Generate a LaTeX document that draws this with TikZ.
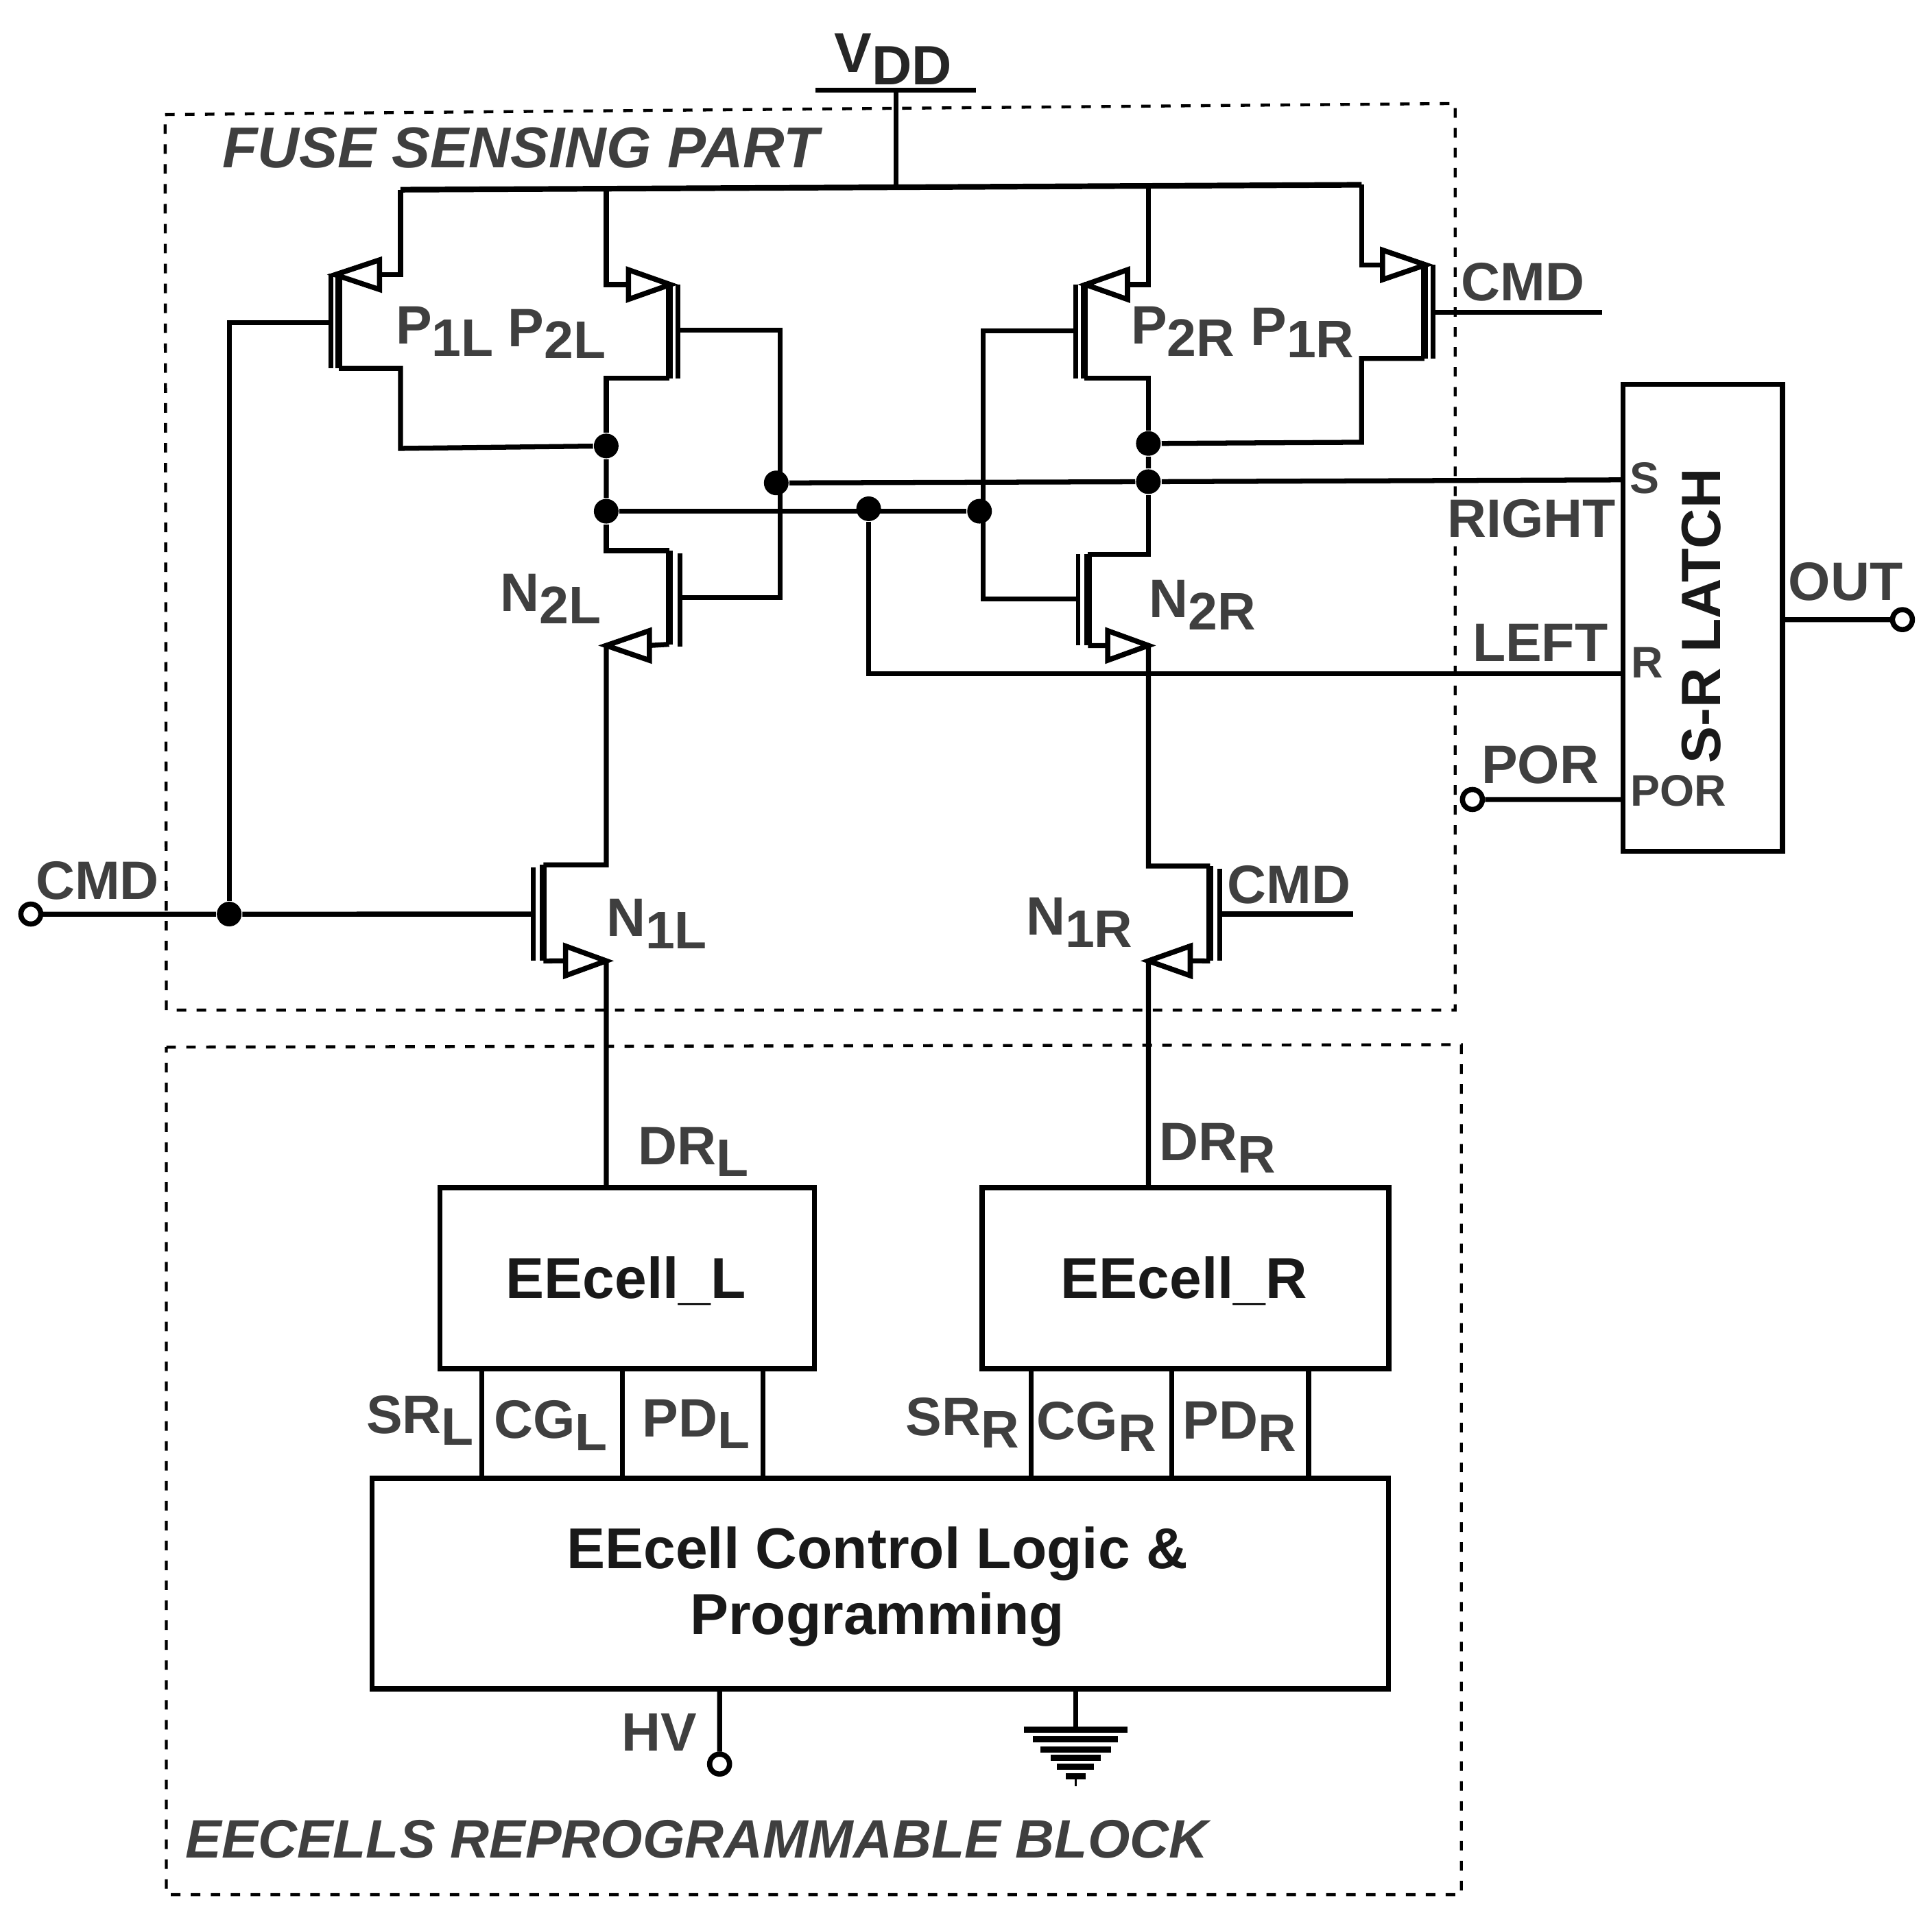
\documentclass[tikz,border=0pt]{standalone}
\usepackage{fontspec}
\setmainfont{Liberation Sans}
\definecolor{labgray}{HTML}{3F3F3F}
\newcommand{\subl}[2]{#1\raisebox{-2.8pt}{\fontsize{12.2}{13}\selectfont #2}}
\tikzset{
  wire/.style={black,line width=1.15pt,line join=miter},
  chan/.style={black,line width=1.6pt},
  gatebar/.style={black,line width=1.1pt},
  boxline/.style={black,line width=1.2pt},
  dashbox/.style={black,line width=0.7pt,dash pattern=on 2.2pt off 2.4pt},
  tri/.style={black,line width=1.2pt,fill=white,line join=miter},
  dotn/.style={circle,fill=black,inner sep=0pt,minimum size=5.7pt},
  pin/.style={circle,draw=black,line width=1.2pt,fill=white,inner sep=0pt,minimum size=4.6pt},
  lab/.style={inner sep=0pt,text=labgray,font=\fontsize{12.5}{14}\selectfont\bfseries},
  pinlab/.style={inner sep=0pt,text=labgray,font=\fontsize{10.2}{12}\selectfont\bfseries},
  titlelab/.style={inner sep=0pt,text=labgray,font=\fontsize{12.5}{14}\selectfont\bfseries\itshape},
  blocklab/.style={inner sep=0pt,text=black!90,align=center,font=\fontsize{13.3}{15.3}\selectfont\bfseries}
}
\begin{document}
\begin{tikzpicture}[scale=0.1]
\useasboundingbox (0,0) rectangle (156.8,-156);
% dashed frames
\draw [dashbox] (13.4,-9.3) -- (118.1,-8.4) -- (118.1,-82) -- (13.5,-82) -- cycle;
\draw [dashbox] (13.5,-85) -- (118.6,-84.8) -- (118.6,-153.8) -- (13.5,-153.8) -- cycle;
\node [titlelab,anchor=west,font=\fontsize{13.3}{14}\selectfont\bfseries\itshape] (titleFuse) at (18,-12) {FUSE SENSING PART};
\node [titlelab,anchor=west] (titleCells) at (15,-149.3) {EECELLS REPROGRAMMABLE BLOCK};
% supply
\coordinate (vddL) at (66.2,-7.3);
\coordinate (vddR) at (79.2,-7.3);
\coordinate (vddM) at (72.7,-7.3);
\coordinate (railM) at (72.7,-15.2);
\coordinate (railA) at (32.5,-15.4);
\coordinate (railB) at (49.2,-15.35);
\coordinate (railC) at (93.2,-15.05);
\coordinate (railD) at (110.5,-15);
\draw [wire] (vddL) -- (vddR);
\draw [wire] (vddM) -- (railM);
\draw [wire,line width=1.3pt] (railA) -- (railM) -- (railD);
\node [inner sep=0pt,text=black!85,font=\fontsize{13}{15}\selectfont\bfseries] (lblVdd) at (72.5,-4.8) {\subl{V}{\fontsize{12.8}{15}\selectfont DD}};
% junction dots
\node [dotn] (dotA) at (49.2,-36.2) {};
\node [dotn] (dotB) at (49.2,-41.5) {};
\node [dotn] (dotC) at (63,-39.2) {};
\node [dotn] (dotD) at (70.5,-41.3) {};
\node [dotn] (dotE) at (79.5,-41.5) {};
\node [dotn] (dotF) at (93.2,-36) {};
\node [dotn] (dotG) at (93.2,-39.1) {};
\node [dotn] (dotH) at (18.6,-74.2) {};
% P1L
\coordinate (P1Ls) at (27.5,-22.3);
\coordinate (P1Ld) at (27.5,-29.9);
\draw [wire] (railA) |- (P1Ls);
\draw [chan] (P1Ls) -- (P1Ld);
\draw [wire] (P1Ld) -| (32.5,-36.4) -- (dotA);
\draw [gatebar] (26.85,-22.2) -- (26.85,-29.9);
\draw [tri] (P1Ls) ++(-0.3,0) -- ++(3.6,1.2) -- ++(0,-2.4) -- cycle;
\node [lab] (lblP1L) at (36.1,-26.9) {\subl{P}{1L}};
% P2L
\coordinate (P2Ls) at (54.3,-23.1);
\coordinate (P2Ld) at (54.3,-30.7);
\draw [wire] (railB) |- (P2Ls);
\draw [chan] (P2Ls) -- (P2Ld);
\draw [wire] (P2Ld) -| (dotA);
\draw [gatebar] (55,-23.1) -- (55,-30.7);
\draw [tri] (P2Ls) ++(0.1,0) -- ++(-3.4,1.2) -- ++(0,-2.4) -- cycle;
\node [lab] (lblP2L) at (45.2,-27.1) {\subl{P}{2L}};
% N2L
\coordinate (N2Ld) at (54.3,-44.7);
\coordinate (N2Ls) at (54.3,-52.3);
\draw [wire] (dotA) -- (dotB);
\draw [wire] (dotB) |- (N2Ld);
\draw [chan] (N2Ld) -- (N2Ls);
\draw [gatebar] (55.2,-44.9) -- (55.2,-52.5);
\draw [tri] (49.2,-52.4) -- ++(3.5,1.2) -- ++(0,-2.4) -- cycle;
\draw [wire] (52.7,-52.4) -- (N2Ls);
\node [lab] (lblN2L) at (44.7,-48.6) {\subl{N}{2L}};
% gates of P2L and N2L
\coordinate (gP2L) at (55,-26.8);
\coordinate (gN2L) at (55.2,-48.5);
\coordinate (gLeft) at (63.3,-48.5);
\draw [wire] (gP2L) -| (gLeft) -- (gN2L);
% N1L
\coordinate (N1Ld) at (44.1,-70.2);
\coordinate (N1Ls) at (44.1,-78);
\draw [wire] (49.2,-52.4) -- (49.2,-70.2) -- (N1Ld);
\draw [chan] (N1Ld) -- (N1Ls);
\draw [gatebar] (43.3,-70.4) -- (43.3,-78);
\draw [wire] (N1Ls) -- (46,-78);
\draw [tri] (49.2,-78) -- ++(-3.3,1.2) -- ++(0,-2.4) -- cycle;
\node [lab] (lblN1L) at (53.3,-75) {\subl{N}{1L}};
% left input
\node [pin] (pinCmd) at (2.5,-74.2) {};
\coordinate (gN1L) at (43.3,-74.2);
\coordinate (gP1L) at (26.85,-26.2);
\draw [wire] (pinCmd) -- (dotH) -- (gN1L);
\draw [wire] (dotH) |- (gP1L);
\node [lab] (lblCmdA) at (7.9,-71.5) {CMD};
% P2R
\coordinate (P2Rs) at (88,-23.1);
\coordinate (P2Rd) at (88,-30.7);
\draw [wire] (railC) |- (P2Rs);
\draw [chan] (P2Rs) -- (P2Rd);
\draw [wire] (P2Rd) -| (dotF);
\draw [gatebar] (87.3,-23.1) -- (87.3,-30.7);
\draw [tri] (P2Rs) ++(0.1,0) -- ++(3.4,1.2) -- ++(0,-2.4) -- cycle;
\node [lab] (lblP2R) at (96,-26.9) {\subl{P}{2R}};
% P1R
\coordinate (P1Rs) at (115.6,-21.5);
\coordinate (P1Rd) at (115.6,-29.1);
\draw [wire] (railD) |- (P1Rs);
\draw [chan] (P1Rs) -- (P1Rd);
\draw [wire] (P1Rd) -| (110.5,-35.9) -- (dotF);
\draw [gatebar] (116.3,-21.5) -- (116.3,-29.1);
\draw [tri] (P1Rs) ++(0.1,0) -- ++(-3.5,1.2) -- ++(0,-2.4) -- cycle;
\node [lab] (lblP1R) at (105.7,-27) {\subl{P}{1R}};
\coordinate (gP1R) at (116.3,-25.35);
\coordinate (endCmdB) at (130,-25.35);
\draw [wire] (gP1R) -- (endCmdB);
\node [lab] (lblCmdB) at (123.6,-22.9) {CMD};
% N2R
\coordinate (N2Rd) at (88.3,-45);
\coordinate (N2Rs) at (88.3,-52.4);
\draw [wire] (dotF) -- (dotG);
\draw [wire] (dotG) |- (N2Rd);
\draw [chan] (N2Rd) -- (N2Rs);
\draw [gatebar] (87.5,-45) -- (87.5,-52.4);
\draw [wire] (N2Rs) -- (90,-52.4);
\draw [tri] (93.2,-52.4) -- ++(-3.3,1.2) -- ++(0,-2.4) -- cycle;
\node [lab] (lblN2R) at (97.6,-49.1) {\subl{N}{2R}};
% gates of P2R and N2R
\coordinate (gP2R) at (87.3,-26.85);
\coordinate (gN2R) at (87.5,-48.6);
\coordinate (gRight) at (79.8,-48.6);
\draw [wire] (gP2R) -| (gRight) -- (gN2R);
% N1R
\coordinate (N1Rd) at (98.2,-70.3);
\coordinate (N1Rs) at (98.2,-78);
\draw [wire] (93.2,-52.4) -- (93.2,-70.3) -- (N1Rd);
\draw [chan] (N1Rd) -- (N1Rs);
\draw [gatebar] (99,-70.5) -- (99,-78);
\draw [wire] (N1Rs) -- (96.5,-78);
\draw [tri] (93.2,-78) -- ++(3.4,1.2) -- ++(0,-2.4) -- cycle;
\node [lab] (lblN1R) at (87.6,-74.9) {\subl{N}{1R}};
\coordinate (gN1R) at (99,-74.2);
\coordinate (endCmdC) at (109.8,-74.2);
\draw [wire] (gN1R) -- (endCmdC);
\node [lab] (lblCmdC) at (104.6,-71.8) {CMD};
% cross connections
\draw [wire] (dotB) -- (dotE);
\draw [wire] (dotC) -- (dotG);
% latch
\node [draw=black,line width=1.2pt,minimum width=12.95mm,minimum height=37.9mm,inner sep=0pt] (latch) at (138.2,-50.15) {};
\node [blocklab,rotate=90,font=\fontsize{12.8}{15}\selectfont\bfseries] (lblLatch) at (138.1,-50) {S-R LATCH};
\coordinate (latchS) at (131.75,-38.95);
\coordinate (latchR) at (131.75,-54.7);
\coordinate (latchP) at (131.75,-64.9);
\coordinate (latchO) at (144.7,-50.3);
\draw [wire] (dotG) -- (latchS);
\draw [wire] (dotD) |- (latchR);
\node [pin] (pinPor) at (119.5,-64.9) {};
\draw [wire] (pinPor) -- (latchP);
\node [pin] (pinOut) at (154.4,-50.3) {};
\draw [wire] (latchO) -- (pinOut);
\node [pinlab] (lblS) at (133.5,-38.8) {S};
\node [pinlab] (lblR) at (133.7,-53.8) {R};
\node [pinlab] (lblPorIn) at (136.2,-64.2) {POR};
\node [lab] (lblRight) at (124.3,-42.1) {RIGHT};
\node [lab] (lblLeft) at (125,-52.2) {LEFT};
\node [lab] (lblPor) at (125,-62.1) {POR};
\node [lab] (lblOut) at (149.8,-47.2) {OUT};
% EEcells
\node [draw=black,line width=1.2pt,minimum width=30.4mm,minimum height=14.7mm,inner sep=0pt] (cellL) at (50.9,-103.75) {};
\node [draw=black,line width=1.2pt,minimum width=33mm,minimum height=14.7mm,inner sep=0pt] (cellR) at (96.2,-103.75) {};
\node [draw=black,line width=1.2pt,minimum width=82.5mm,minimum height=17.1mm,inner sep=0pt] (ctrl) at (71.45,-128.55) {};
\node [blocklab] (lblCellL) at (50.8,-104) {EEcell\_L};
\node [blocklab] (lblCellR) at (96.1,-104) {EEcell\_R};
\node [blocklab] (lblCtrl) at (71.2,-128.8) {EEcell Control Logic \&\\Programming};
\coordinate (drL) at (49.2,-96.4);
\coordinate (drR) at (93.2,-96.4);
\draw [wire] (49.2,-78) -- (drL);
\draw [wire] (93.2,-78) -- (drR);
\node [lab] (lblDrL) at (56.3,-93.5) {\subl{DR}{L}};
\node [lab] (lblDrR) at (98.8,-93.2) {\subl{DR}{R}};
% control lines
\foreach \xa/\nm in {39.1/a,50.5/b,61.9/c,83.7/d,95.1/e,106.2/f} {
  \coordinate (up\nm) at (\xa,-111.1);
  \coordinate (dn\nm) at (\xa,-120);
  \draw [wire] (up\nm) -- (dn\nm);
}
\node [lab] (lblSrL) at (34.1,-115.3) {\subl{SR}{L}};
\node [lab] (lblCgL) at (44.7,-115.7) {\subl{CG}{L}};
\node [lab] (lblPdL) at (56.5,-115.6) {\subl{PD}{L}};
\node [lab] (lblSrR) at (78.1,-115.5) {\subl{SR}{R}};
\node [lab] (lblCgR) at (89,-115.8) {\subl{CG}{R}};
\node [lab] (lblPdR) at (100.6,-115.8) {\subl{PD}{R}};
% HV and ground
\node [pin] (pinHv) at (58.4,-143.2) {};
\coordinate (ctrlHv) at (58.4,-137.1);
\draw [wire] (ctrlHv) -- (pinHv);
\node [lab] (lblHv) at (53.5,-140.6) {HV};
\coordinate (ctrlGnd) at (87.3,-137.2);
\coordinate (gndTop) at (87.3,-140.4);
\draw [wire] (ctrlGnd) -- (gndTop);
\foreach \yb/\hw in {140.4/4.2,141.2/3.45,142/2.85,142.7/2.05,143.4/1.5,144.2/0.8} {
  \draw [black,line width=1.4pt] (87.3-\hw,-\yb) -- (87.3+\hw,-\yb);
}
\draw [black,line width=0.5pt] (87.3,-144.4) -- (87.3,-145);
\end{tikzpicture}
\end{document}
